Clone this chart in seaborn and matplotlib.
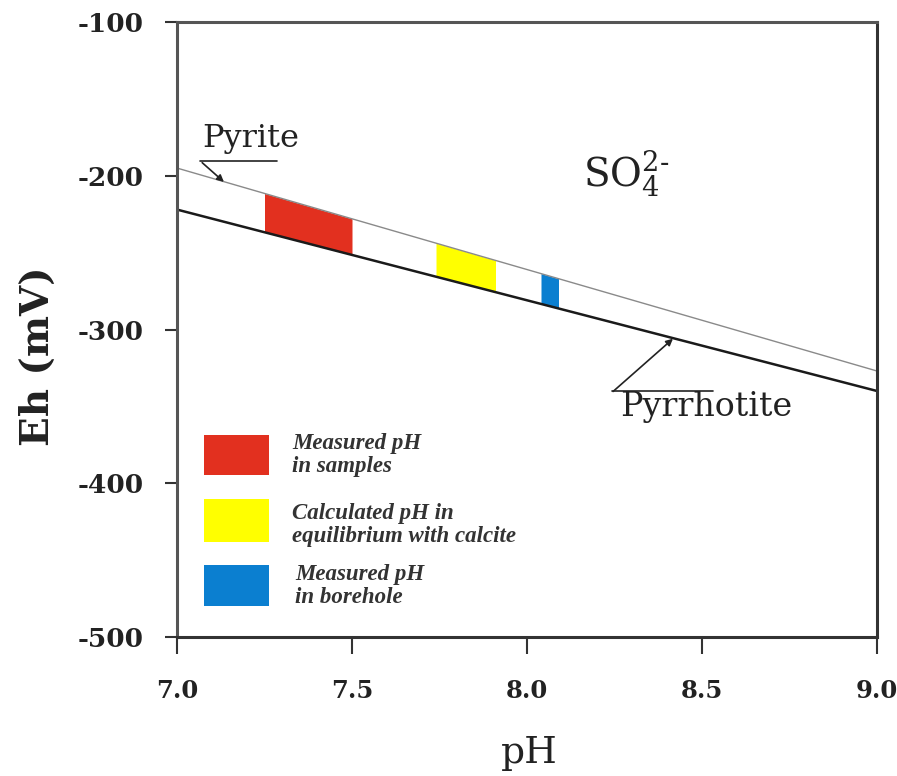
import matplotlib
matplotlib.use("Agg")
import matplotlib.pyplot as plt
from matplotlib.patches import Rectangle
import numpy as np
import pandas as pd
import seaborn as sns

# Stability boundaries (Eh in mV) at the ends of the pH window
ph_ends = [7.0, 9.0]
pyrite_eh = [-195, -327]        # SO4(2-) / pyrite boundary
pyrrhotite_eh = [-222, -340]    # pyrite / pyrrhotite boundary

# pH ranges highlighted inside the pyrite field
range_names = ["Measured pH\nin samples",
               "Calculated pH in\nequilibrium with calcite",
               "Measured pH\nin borehole"]
range_lo = [7.25, 7.74, 8.04]
range_hi = [7.50, 7.91, 8.09]
range_colors = ["#e2301f", "#ffff00", "#0b7fd0"]

x_ticks = [7.0, 7.5, 8.0, 8.5, 9.0]
y_ticks = [-500, -400, -300, -200, -100]

sns.set_theme(style="white")
plt.rcParams["mathtext.fontset"] = "dejavuserif"

fig = plt.figure(figsize=(8.97, 7.76), dpi=100)
ax = fig.add_axes([177 / 897, 1 - 637 / 776, 700 / 897, 615 / 776])

lines = pd.DataFrame({"pH": ph_ends * 2,
                      "Eh": pyrite_eh + pyrrhotite_eh,
                      "boundary": ["pyrite"] * 2 + ["pyrrhotite"] * 2})
sns.lineplot(data=lines, x="pH", y="Eh", hue="boundary",
             palette={"pyrite": "#8a8a8a", "pyrrhotite": "#1a1a1a"},
             size="boundary", sizes={"pyrite": 1.0, "pyrrhotite": 1.8},
             legend=False, ax=ax)

# Colored bands between the two boundaries
def boundary(eh, x):
    return np.interp(x, ph_ends, eh)

for lo, hi, c in zip(range_lo, range_hi, range_colors):
    xs = np.array([lo, hi])
    ax.fill_between(xs, boundary(pyrrhotite_eh, xs), boundary(pyrite_eh, xs),
                    color=c, linewidth=0, zorder=1)

tick_font = dict(fontfamily="DejaVu Serif", fontweight="bold", color="#222222")
ax.set_xlim(7.0, 9.0)
ax.set_ylim(-500, -100)
ax.set_xticks(x_ticks)
ax.set_xticklabels([f"{v:.1f}" for v in x_ticks], fontsize=17.5, **tick_font)
ax.set_yticks(y_ticks)
ax.set_yticklabels([str(v) for v in y_ticks], fontsize=19, **tick_font)
ax.tick_params(axis="x", direction="out", length=12, width=1.5,
               color="#333333", pad=18, bottom=True)
ax.tick_params(axis="y", direction="out", length=9, width=1.5,
               color="#333333", pad=15, left=True)

ax.set_xlabel("pH", fontfamily="DejaVu Serif", fontsize=27, color="#222222")
ax.set_ylabel("Eh (mV)", fontfamily="DejaVu Serif", fontweight="bold",
              fontsize=28, color="#222222")
ax.xaxis.set_label_coords(0.504, -0.160)
ax.yaxis.set_label_coords(-0.172, 0.457)

for side, sp in ax.spines.items():
    sp.set_visible(True)
    sp.set_color("#555555")
    sp.set_linewidth(2.2)
ax.spines["bottom"].set_color("#333333")
ax.spines["right"].set_color("#333333")

# Field and boundary labels
ax.text(8.16, -207, r"SO$_4^{2\text{-}}$", fontfamily="DejaVu Serif",
        fontsize=28, color="#222222")
ax.text(7.071, -181, "Pyrite", fontfamily="DejaVu Serif", fontsize=23,
        color="#222222")
ax.text(8.266, -356, "Pyrrhotite", fontfamily="DejaVu Serif", fontsize=24,
        color="#222222")

ax.plot([7.066, 7.286], [-190.5, -190.5], color="#222222", lw=1.2)
ax.annotate("", xy=(7.134, -204), xytext=(7.072, -191.5),
            arrowprops=dict(arrowstyle="-|>", color="#222222", lw=1.2,
                            mutation_scale=10, shrinkA=0, shrinkB=0))
ax.plot([8.243, 8.531], [-340.3, -340.3], color="#222222", lw=1.2)
ax.annotate("", xy=(8.417, -306), xytext=(8.246, -340.3),
            arrowprops=dict(arrowstyle="-|>", color="#222222", lw=1.2,
                            mutation_scale=10, shrinkA=0, shrinkB=0))

# Key for the highlighted ranges
key_y = [0.263, 0.154, 0.050]
key_h = [0.065, 0.070, 0.067]
text_x = [0.164, 0.164, 0.169]
text_y = [0.296, 0.182, 0.083]
for name, c, y0, h, tx, ty in zip(range_names, range_colors, key_y, key_h,
                                  text_x, text_y):
    ax.add_patch(Rectangle((0.039, y0), 0.092, h, transform=ax.transAxes,
                           facecolor=c, edgecolor="none"))
    ax.text(tx, ty, name, transform=ax.transAxes, va="center",
            ha="left", fontfamily="Liberation Serif", fontstyle="italic",
            fontweight="bold", fontsize=16.5, color="#333333", linespacing=1.08)

fig.savefig("out.png", dpi=100, facecolor="white")
